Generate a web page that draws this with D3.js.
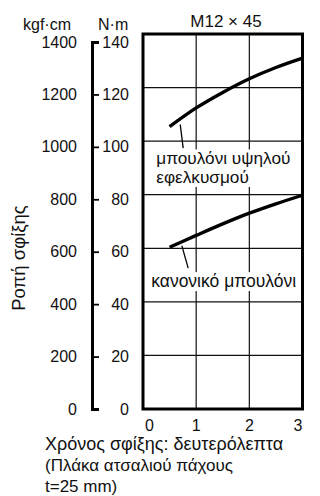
<!DOCTYPE html>
<html><head><meta charset="utf-8">
<script src="https://cdn.jsdelivr.net/npm/d3@7"></script>
<style>
html,body{margin:0;padding:0;background:#fff;}
svg{display:block;font-family:"Liberation Sans",Arial,Helvetica,sans-serif;}
</style></head>
<body>
<svg id="c" width="320" height="496"></svg>
<script>
// ---- data ----
const timeTicks = [0, 1, 2, 3];
const nmTicks = [0, 20, 40, 60, 80, 100, 120, 140];
const kgfTicks = [0, 200, 400, 600, 800, 1000, 1200, 1400];
const time = [0.5, 1, 1.5, 2, 2.5, 3];
const highTensile = [105.4, 112.4, 118.2, 123.3, 127.5, 131.0];
const normal = [60.4, 64.8, 69.1, 73.1, 76.6, 79.8];
const title = "M12 × 45";
const yTitle = "Ροπή σφίξης";
const xTitleLines = ["Χρόνος σφίξης: δευτερόλεπτα", "(Πλάκα ατσαλιού πάχους", "t=25 mm)"];
const labelHigh = ["μπουλόνι υψηλού", "εφελκυσμού"];
const labelNormal = ["κανονικό μπουλόνι"];

const svg = d3.select("#c");
const x = d3.scaleLinear().domain([0, 3]).range([143, 302.5]);
const y = d3.scaleLinear().domain([0, 140]).range([409, 34]);
const yk = d3.scaleLinear().domain([0, 1400]).range([409, 42]);
const yn = d3.scaleLinear().domain([0, 140]).range([409, 42]);

// grid
const g = svg.append("g");
g.selectAll(".gx").data(timeTicks.slice(1, -1)).join("line")
  .attr("x1", d => x(d)).attr("x2", d => x(d)).attr("y1", y(140)).attr("y2", y(0))
  .attr("stroke", "#111").attr("stroke-width", 1.2);
g.selectAll(".gy").data(nmTicks.slice(1, -1)).join("line")
  .attr("x1", x(0)).attr("x2", x(3)).attr("y1", d => y(d)).attr("y2", d => y(d))
  .attr("stroke", "#111").attr("stroke-width", 1.2);

// labels with white backgrounds
function label(lines, x0, yBase, lh, fs) {
  const grp = svg.append("g");
  const bg = grp.append("rect").attr("fill", "#fff");
  grp.selectAll("text").data(lines).join("text")
    .attr("x", x0).attr("y", (d, i) => yBase + i * lh)
    .attr("font-size", fs).attr("fill", "#111").text(d => d);
  const bb = grp.node().getBBox();
  bg.attr("x", bb.x - 2).attr("y", bb.y + 1).attr("width", bb.width + 4).attr("height", bb.height - 1);
}
label(labelHigh, x(0.25), y(91.3), 18.5, 17.2);
label(labelNormal, x(0.155), y(45.5), 18, 17.5);

// plot border
svg.append("rect").attr("x", x(0)).attr("y", y(140)).attr("width", x(3) - x(0)).attr("height", y(0) - y(140))
  .attr("fill", "none").attr("stroke", "#000").attr("stroke-width", 3);

// curves
const line = d3.line().x(d => x(d[0])).y(d => y(d[1])).curve(d3.curveCatmullRom);
[highTensile, normal].forEach(s => {
  svg.append("path").attr("d", line(time.map((t, i) => [t, s[i]])))
    .attr("fill", "none").attr("stroke", "#000").attr("stroke-width", 3.4).attr("stroke-linecap", "butt");
});

// leader lines
const leaders = [[[0.70, 106.2], [0.755, 97.4]], [[0.73, 61.0], [0.85, 52.6]]];
svg.selectAll(".ld").data(leaders).join("line")
  .attr("x1", d => x(d[0][0])).attr("y1", d => y(d[0][1]))
  .attr("x2", d => x(d[1][0])).attr("y2", d => y(d[1][1]))
  .attr("stroke", "#000").attr("stroke-width", 1.3);

// left axis (bracket)
const ax = svg.append("g").attr("transform", "translate(92,0)")
  .call(d3.axisRight(yk).tickValues(kgfTicks).tickSize(7).tickSizeOuter(7).tickFormat(""));
ax.select(".domain").attr("stroke", "#000").attr("stroke-width", 3);
ax.selectAll(".tick line").attr("stroke", "#000").attr("stroke-width", 1.8);
ax.selectAll(".tick text").remove();

// tick labels
svg.selectAll(".kl").data(kgfTicks).join("text")
  .attr("x", 77).attr("y", d => yk(d) + 5.6).attr("text-anchor", "end")
  .attr("font-size", 16).attr("fill", "#111").text(d => d);
svg.selectAll(".nl").data(nmTicks).join("text")
  .attr("x", 129).attr("y", d => yn(d) + 5.6).attr("text-anchor", "end")
  .attr("font-size", 16).attr("fill", "#111").text(d => d);
svg.selectAll(".xl").data(timeTicks).join("text")
  .attr("x", (d, i) => i === 0 ? x(d) + 2 : x(d))
  .attr("y", 431)
  .attr("text-anchor", (d, i) => i === 0 ? "start" : i === timeTicks.length - 1 ? "end" : "middle")
  .attr("font-size", 16).attr("fill", "#111").text(d => d);

// units and titles
svg.append("text").attr("x", 23).attr("y", 30).attr("font-size", 16).attr("fill", "#111").text("kgf·cm");
svg.append("text").attr("x", 98).attr("y", 30).attr("font-size", 16).attr("fill", "#111").text("N·m");
svg.append("text").attr("x", 226).attr("y", 26.5).attr("text-anchor", "middle").attr("font-size", 17).attr("fill", "#111").text(title);
svg.append("text").attr("transform", "translate(25,258) rotate(-90)").attr("text-anchor", "middle")
  .attr("font-size", 18.5).attr("fill", "#111").text(yTitle);
svg.selectAll(".xt").data(xTitleLines).join("text")
  .attr("x", 45).attr("y", (d, i) => 450 + i * 21)
  .attr("font-size", (d, i) => i === 0 ? 18 : 17).attr("fill", "#111").text(d => d);
</script>
</body></html>
